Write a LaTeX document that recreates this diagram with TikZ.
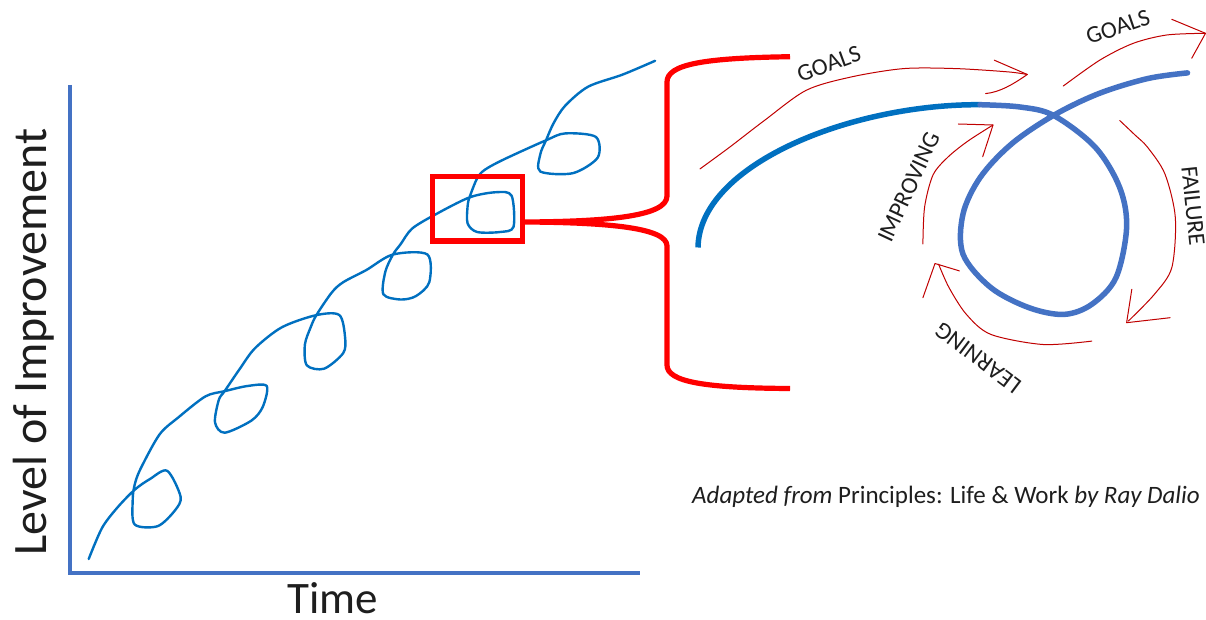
\documentclass[tikz,border=0pt]{standalone}
\usepackage{fontspec}
\setmainfont{Carlito}
\definecolor{axisblue}{HTML}{4472C4}
\definecolor{curveblue}{HTML}{0070C0}
\definecolor{loopblue}{HTML}{4472C4}
\definecolor{boxred}{HTML}{FF0000}
\definecolor{penred}{HTML}{C00000}
\definecolor{ink}{HTML}{1E1E1E}
\tikzset{
  axisline/.style={draw=axisblue, line width=4pt},
  bluecurve/.style={draw=curveblue, line width=2.4pt, line join=round, line cap=round},
  thickarc/.style={draw=curveblue, line width=5.5pt},
  thickloop/.style={draw=loopblue, line width=5.5pt},
  bracestyle/.style={draw=boxred, line width=5.2pt, line join=round},
  penarrow/.style={draw=penred, line width=1pt, line join=round, line cap=round},
  steplabel/.style={text=ink, font=\fontsize{24}{27}\selectfont, inner sep=0pt},
  axislabel/.style={text=ink, font=\fontsize{45}{52}\selectfont, inner sep=0pt},
}
\begin{document}
\begin{tikzpicture}[x=1pt, y=-1pt]
\useasboundingbox[fill=white] (0,0) rectangle (1206,620);

% axes
\coordinate (origin) at (70,573);
\coordinate (ytop) at (70,85);
\coordinate (xend) at (640,573);
\draw[axisline] (ytop) -- (origin) -- (xend);
\node[axislabel, anchor=base] (timelabel) at (333,613) {Time};
\node[axislabel, font=\fontsize{48}{54}\selectfont, rotate=90] (levellabel) at (34,342) {Level of Improvement};

% loopy improvement curve
\draw[bluecurve] plot[smooth, tension=0.5] coordinates {
 (88.7,559) (102,528) (117,508) (134.6,489.8) (150,479) (167.2,470.8)
 (180.6,496.7) (174.8,510.6) (157.6,526.2) (134.6,524.4) (132.7,500) (134.6,485)
 (140.4,469.1) (159.5,434.5) (178.6,417.2) (205.4,396.4) (224.6,391.2)
 (247.5,386) (266.7,386) (262.8,406.8) (251.4,420.6) (224.6,432.7) (215,422.4)
 (218.8,399.9) (224.6,391.2) (239.9,368.7) (255.2,348) (282,327.2) (316.4,315.1)
 (339.4,315.1) (345.1,337.6) (343.2,353.1) (324.1,368.7) (306.8,365.3)
 (304.9,344.5) (310.7,327.2) (316.4,315.1) (331.7,292.6) (343.2,282.2) (366.2,270.1)
 (393,254.5) (427.4,254.5) (429.3,282.2) (415.9,296.1) (400.6,299.5) (383.4,294.3)
 (385.3,271.8) (393,254.5) (400.6,244.2) (412.1,228.6) (435,214.7) (469.5,197.4)
 (496.3,192.2) (511.6,195.7) (513.5,226.9) (500.1,232) (477.1,232) (467.6,223.4)
 (467.6,206.1) (469.5,197.4) (477.1,178.4) (484.8,169.8) (503.9,159.4) (546,140.3)
 (565.2,133.4) (595.8,136.9) (597.7,157.6) (572.8,173.2) (540.3,171.5)
 (540.3,154.2) (546,140.3) (553.7,123) (565.2,105.7) (588.1,86.7) (622.6,74.6) (655.1,60.8)
};

% zoom box and brace
\node[draw=boxred, line width=5pt, minimum width=90pt, minimum height=64pt, inner sep=0pt] (zoombox) at (477,209) {};
\coordinate (bracetop) at (790,56.7);
\coordinate (bracebot) at (790,388.5);
\draw[bracestyle] (bracetop) .. controls (705,58) and (667,64) .. (667,82)
  -- (667,196) .. controls (667,216) and (610,221.5) .. (zoombox.east |- 0,222)
  .. controls (610,222.5) and (667,228) .. (667,246)
  -- (667,365) .. controls (667,382) and (705,388) .. (bracebot);

% enlarged loop
\coordinate (arcstart) at (698,247.5);
\coordinate (arcjoin) at (980,104.7);
\draw[thickarc] (arcstart) .. controls (699,165) and (850,104) .. (arcjoin);
\draw[thickloop, line cap=round] plot[smooth, tension=0.55] coordinates {
 (980,104.7) (1020,107) (1053.5,115.4) (1095,147) (1119.6,187.3) (1126.6,227.4)
 (1116,277.6) (1091.8,304.3) (1064,314.4) (1029,307.7) (990.8,287.6) (963,254.2)
 (963,214) (980.3,177.3) (1011.7,143.8) (1053.5,115.4) (1098.7,93.6) (1147.5,78.6) (1187.5,72.9)
};

% hand drawn arrows
\draw[penarrow] plot[smooth, tension=0.5] coordinates {
 (700,168.9) (729.6,147.2) (764.5,120.4) (806.2,90.3) (851.5,76.9) (903.7,68.6)
 (956,68.6) (1008.2,71.9) (1027.3,74.5)};
\draw[penarrow] (994.3,60.2) -- (1027.3,74.5) .. controls (1012,85) and (1000,92) .. (985.6,93.6);

\draw[penarrow] plot[smooth, tension=0.5] coordinates {
 (1063.3,86) (1100,60) (1133.3,43.3) (1166.7,35) (1205,33.3)};
\draw[penarrow] (1171.7,19.3) -- (1205.5,33.3) -- (1191.7,58.3);

\draw[penarrow] plot[smooth, tension=0.5] coordinates {
 (922.9,244) (924.6,207) (933,175) (948,157) (968,141) (993,125)};
\draw[penarrow] (958.3,124) -- (993,125) -- (982.7,156.7);

\draw[penarrow] plot[smooth, tension=0.5] coordinates {
 (1119.6,120.4) (1135,135) (1147.5,147.2) (1164.9,173.9) (1175.3,217.4)
 (1171.8,267.6) (1154.4,294.3) (1128.3,321.1)};
\draw[penarrow] (1131.8,289.3) -- (1126.6,322.7) -- (1170.1,317.7);

\draw[penarrow] plot[smooth, tension=0.5] coordinates {
 (1091.8,341.1) (1043,344.5) (990.8,334.4) (966.4,314.4) (949,287.6) (938.6,264.2)};
\draw[penarrow] (922.9,297.7) -- (935,263.5) -- (959.4,270.9);

% labels
\node[steplabel, rotate=20] (goalsa) at (829,64) {GOALS};
\node[steplabel, rotate=19] (goalsb) at (1118,27) {GOALS};
\node[steplabel, rotate=65] (improving) at (909,187) {IMPROVING};
\node[steplabel, rotate=-84] (failure) at (1193,206) {FAILURE};
\node[steplabel, rotate=143] (learning) at (978,358) {LEARNING};

% caption
\node[text=ink, font=\fontsize{25}{28}\selectfont, inner sep=0pt, anchor=west] (caption) at (692,497)
 {\itshape Adapted from\/ \upshape Principles: Life \& Work \itshape by Ray Dalio};
\end{tikzpicture}
\end{document}
